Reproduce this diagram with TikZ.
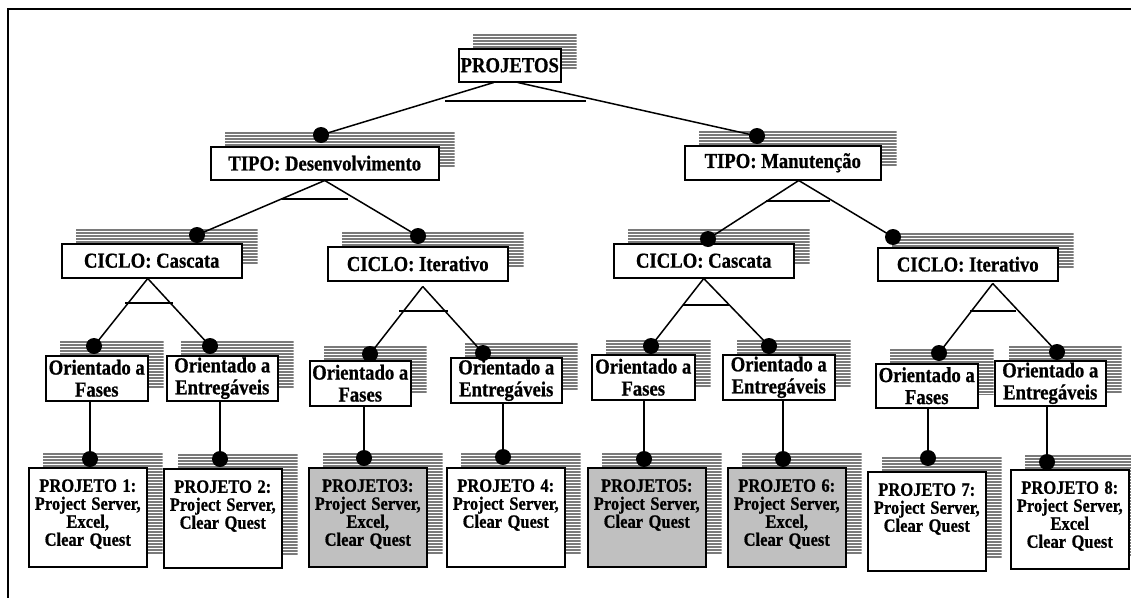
\documentclass[tikz,border=0pt]{standalone}
\usepackage{graphicx}
\usepackage{fontspec}
\setmainfont{Liberation Serif}[BoldFeatures={FakeBold=0.8}]
\usetikzlibrary{calc}

\pgfdeclarelayer{bg}
\pgfdeclarelayer{mid}
\pgfsetlayers{bg,mid,main}

\definecolor{stripegray}{HTML}{7A7A7A}
\definecolor{leafgray}{HTML}{C0C0C0}

\tikzset{
  box/.style={draw=black, line width=1.5pt, fill=white, inner sep=0pt,
    anchor=north west, align=center,
    font=\bfseries\fontsize{18.7}{22}\selectfont},
  headbox/.style={box, minimum height=33pt},
  featbox/.style={box, minimum height=45pt},
  leafbox/.style={draw=black, line width=1.5pt, fill=white, inner sep=0pt,
    anchor=north west, text width=118pt, align=center,
    text height=24pt, text depth=75pt,
    font=\bfseries\fontsize{16.5}{18}\selectfont},
  shaded/.style={fill=leafgray},
  dot/.style={circle, fill=black, inner sep=0pt, minimum size=16pt},
  link/.style={line width=1.5pt},
  bar/.style={line width=1.5pt},
  stripe/.style={draw=stripegray, line width=2.1pt},
  frame/.style={line width=1.5pt},
}

% slightly tall lettering
\newcommand\tl[1]{\scalebox{1}[1.14]{#1}}

% striped shadow, shifted up and to the right of a box
\newcommand\stripeshadow[1]{%
  \begin{pgfonlayer}{bg}
    \begin{scope}
      \clip ([shift={(15,-14)}]#1.south west) rectangle ([shift={(15,-14)}]#1.north east);
      \foreach \k in {0,...,40}
        \draw[stripe] ([shift={(0,-13+3*\k)}]#1.north west) -- ++(300,0);
    \end{scope}
  \end{pgfonlayer}}

\begin{document}
\begin{tikzpicture}[x=1pt,y=-1pt]
\useasboundingbox (0,0) rectangle (1131,597);

% frame
\draw[frame] (8,640) -- (8,9) -- (1160,9);

% ---- boxes ----
\node[headbox, minimum width=102pt] (proj) at (458,48) {\tl{PROJETOS}};

\node[headbox, minimum width=228pt] (tipoD) at (210,146) {\tl{TIPO: Desenvolvimento}};
\node[headbox, minimum width=196pt, minimum height=34pt] (tipoM) at (684,145) {\tl{TIPO: Manutenção}};

\node[headbox, minimum width=180pt, minimum height=34pt] (c1) at (61,243) {\tl{CICLO: Cascata}};
\node[headbox, minimum width=180pt, minimum height=34pt] (c2) at (327,246) {\tl{CICLO: Iterativo}};
\node[headbox, minimum width=180pt, minimum height=34pt] (c3) at (613,243) {\tl{CICLO: Cascata}};
\node[headbox, minimum width=180pt] (c4) at (877,247) {\tl{CICLO: Iterativo}};

\node[featbox, minimum width=102pt] (o1f) at (45,355) {\tl{Orientado a}\\\tl{Fases}};
\node[featbox, minimum width=111pt] (o1e) at (166,355) {\tl{Orientado a}\\\tl{Entregáveis}};
\node[featbox, minimum width=101pt] (o2f) at (309,360) {\tl{Orientado a}\\\tl{Fases}};
\node[featbox, minimum width=111pt] (o2e) at (450,357) {\tl{Orientado a}\\\tl{Entregáveis}};
\node[featbox, minimum width=103pt] (o3f) at (591,354) {\tl{Orientado a}\\\tl{Fases}};
\node[featbox, minimum width=112pt] (o3e) at (722,354) {\tl{Orientado a}\\\tl{Entregáveis}};
\node[featbox, minimum width=102pt, minimum height=44pt] (o4f) at (875,363) {\tl{Orientado a}\\\tl{Fases}};
\node[featbox, minimum width=111pt] (o4e) at (994,360) {\tl{Orientado a}\\\tl{Entregáveis}};

\node[leafbox] (p1) at (28,467) {\tl{PROJETO 1:}\\\tl{Project Server,}\\\tl{Excel,}\\\tl{Clear Quest}};
\node[leafbox] (p2) at (163,468) {\tl{PROJETO 2:}\\\tl{Project Server,}\\\tl{Clear Quest}};
\node[leafbox, shaded] (p3) at (308,467) {\tl{PROJETO3:}\\\tl{Project Server,}\\\tl{Excel,}\\\tl{Clear Quest}};
\node[leafbox] (p4) at (446,467) {\tl{PROJETO 4:}\\\tl{Project Server,}\\\tl{Clear Quest}};
\node[leafbox, shaded] (p5) at (587,467) {\tl{PROJETO5:}\\\tl{Project Server,}\\\tl{Clear Quest}};
\node[leafbox, shaded] (p6) at (727,467) {\tl{PROJETO 6:}\\\tl{Project Server,}\\\tl{Excel,}\\\tl{Clear Quest}};
\node[leafbox] (p7) at (867,471) {\tl{PROJETO 7:}\\\tl{Project Server,}\\\tl{Clear Quest}};
\node[leafbox] (p8) at (1010,469) {\tl{PROJETO 8:}\\\tl{Project Server,}\\\tl{Excel}\\\tl{Clear Quest}};

% ---- striped shadows ----
\foreach \b in {proj,tipoD,tipoM,c1,c2,c3,c4,o1f,o1e,o2f,o2e,o3f,o3e,o4f,o4e,p1,p2,p3,p4,p5,p6,p7,p8}
  {\stripeshadow{\b}}

% ---- connection dots ----
\node[dot] (dTD) at (321,135) {};
\node[dot] (dTM) at (757,136) {};
\node[dot] (dC1) at (197,235) {};
\node[dot] (dC2) at (418,236) {};
\node[dot] (dC3) at (708,239) {};
\node[dot] (dC4) at (893,237) {};
\node[dot] (dO1F) at (94,346) {};
\node[dot] (dO1E) at (210,346) {};
\node[dot] (dO2F) at (370,354) {};
\node[dot] (dO2E) at (483,353) {};
\node[dot] (dO3F) at (651,346) {};
\node[dot] (dO3E) at (769,346) {};
\node[dot] (dO4F) at (939,353) {};
\node[dot] (dO4E) at (1057,352) {};
\node[dot] (dP1) at (90,459) {};
\node[dot] (dP2) at (220,459) {};
\node[dot] (dP3) at (364,458) {};
\node[dot] (dP4) at (503,457) {};
\node[dot] (dP5) at (644,459) {};
\node[dot] (dP6) at (783,459) {};
\node[dot] (dP7) at (928,458) {};
\node[dot] (dP8) at (1047,462) {};

% ---- group bars ----
\coordinate (b0l) at (445,101);  \coordinate (b0r) at (586,101);
\coordinate (bDl) at (282,199);  \coordinate (bDr) at (348,199);
\coordinate (bMl) at (766,201);  \coordinate (bMr) at (830,201);
\coordinate (b1l) at (125,303);  \coordinate (b1r) at (173,303);
\coordinate (b2l) at (399,311);  \coordinate (b2r) at (448,311);
\coordinate (b3l) at (683,305);  \coordinate (b3r) at (729,305);
\coordinate (b4l) at (970,311);  \coordinate (b4r) at (1016,311);

\begin{pgfonlayer}{mid}
  % bars
  \foreach \g in {0,D,M,1,2,3,4}
    \draw[bar] (b\g l) -- (b\g r);
  % root
  \draw[link] ([xshift=-16pt]proj.south) -- (dTD.center);
  \draw[link] ([xshift=8pt]proj.south) -- (dTM.center);
  % type level
  \draw[link] (tipoD.south) -- (dC1.center);
  \draw[link] (tipoD.south) -- (dC2.center);
  \draw[link] ([xshift=16pt]tipoM.south) -- (dC3.center);
  \draw[link] ([xshift=16pt]tipoM.south) -- (dC4.center);
  % cycle level
  \draw[link] ([xshift=-4pt]c1.south) -- (dO1F.center);
  \draw[link] ([xshift=-4pt]c1.south) -- (dO1E.center);
  \draw[link] ([shift={(5,5)}]c2.south) -- (dO2F.center);
  \draw[link] ([shift={(5,5)}]c2.south) -- (dO2E.center);
  \draw[link] (c3.south) -- (dO3F.center);
  \draw[link] (c3.south) -- (dO3E.center);
  \draw[link] ([shift={(25,2)}]c4.south) -- (dO4F.center);
  \draw[link] ([shift={(25,2)}]c4.south) -- (dO4E.center);
  % leaves
  \draw[link] (dP1.center) -- (dP1 |- o1f.south);
  \draw[link] (dP2.center) -- (dP2 |- o1e.south);
  \draw[link] (dP3.center) -- (dP3 |- o2f.south);
  \draw[link] (dP4.center) -- (dP4 |- o2e.south);
  \draw[link] (dP5.center) -- (dP5 |- o3f.south);
  \draw[link] (dP6.center) -- (dP6 |- o3e.south);
  \draw[link] (dP7.center) -- (dP7 |- o4f.south);
  \draw[link] (dP8.center) -- (dP8 |- o4e.south);
\end{pgfonlayer}
\end{tikzpicture}
\end{document}
